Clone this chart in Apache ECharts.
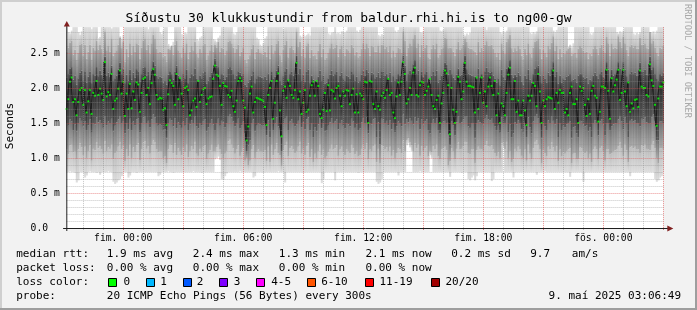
<!DOCTYPE html>
<html><head><meta charset="utf-8">
<script src="https://cdn.jsdelivr.net/npm/echarts@6/dist/echarts.min.js"></script>
<style>html,body{margin:0;padding:0;background:#f2f2f2}#c{width:697px;height:310px}</style>
</head><body><div id="c"></div><script>
// ---------- DATA ----------
// 5-minute steps starting Wed 21:10
const stepStartMin = 21 * 60 + 10;
const stepMin = 5;
const dayNames = ['mið.', 'fim.', 'fös.'];

// median RTT (ms) per step
const median = [
1.70,1.84,2.09,2.15,1.80,1.84,1.61,1.80,1.97,2.00,1.76,1.97,1.65,1.81,1.97,1.63,1.93,1.89,2.10,1.90,
1.99,1.92,1.83,2.37,1.88,1.94,1.90,2.20,1.70,1.82,1.85,1.99,2.25,1.92,2.09,1.60,1.92,1.70,2.06,1.71,
1.95,1.83,2.08,2.05,1.66,1.93,2.13,2.15,1.90,2.00,1.77,2.07,2.27,2.19,1.90,1.84,1.86,1.85,1.69,
1.71,1.47,1.91,2.11,2.07,2.03,1.76,2.20,1.84,2.14,1.92,1.74,2.00,2.02,1.97,1.61,1.68,1.82,1.85,1.73,
2.10,1.80,1.90,1.98,2.00,1.77,1.85,1.87,1.88,2.13,2.32,2.19,2.17,2.03,1.76,2.07,2.03,2.02,1.90,1.87,
1.96,1.74,1.66,1.82,2.10,2.14,2.10,1.82,1.72,1.25,1.45,1.92,2.02,1.65,1.80,1.86,1.85,1.84,1.83,1.81,
1.73,1.47,1.90,2.00,2.10,1.56,1.79,2.10,2.21,1.68,1.31,1.96,2.02,1.86,2.11,2.03,1.90,1.86,1.97,2.36,
1.84,1.95,1.63,1.79,1.97,1.66,1.69,1.89,2.04,2.09,1.89,2.10,2.03,1.63,1.57,1.69,1.93,1.67,2.04,1.68,
1.97,1.95,1.85,2.00,2.03,1.89,1.74,1.95,1.89,1.97,1.96,1.77,1.90,1.99,1.65,1.91,1.65,1.92,1.89,1.84,
2.09,2.08,1.50,2.10,2.09,1.77,1.70,1.95,1.74,1.69,1.89,1.93,1.86,1.97,2.13,1.90,1.93,1.65,1.57,1.88,
2.08,1.90,2.09,2.37,2.20,1.78,1.84,2.00,1.90,2.22,2.29,1.90,1.88,2.04,2.09,2.08,1.90,1.96,2.02,2.13,
1.90,1.74,1.70,1.83,1.89,1.50,1.78,1.93,2.25,2.21,2.04,1.34,2.00,1.69,1.50,1.66,2.16,2.09,1.84,1.95,
2.36,2.09,2.03,2.03,2.02,2.01,1.65,2.15,1.70,1.93,2.15,1.79,1.95,1.74,2.02,2.15,2.03,1.90,2.10,1.61,
1.92,1.50,1.78,1.74,1.61,1.93,2.19,2.29,1.84,1.84,2.10,1.66,1.82,1.61,1.61,1.82,1.68,1.47,1.89,1.82,
1.89,2.07,2.03,1.74,2.20,1.95,1.50,1.82,1.74,1.84,1.87,1.86,1.85,2.25,1.70,1.93,1.79,1.97,1.93,1.93,
1.65,1.70,1.61,1.93,2.02,1.77,1.77,1.84,1.50,2.02,1.96,2.00,1.76,1.60,1.84,1.63,1.96,2.03,1.89,1.86,
1.52,1.66,2.02,2.02,2.00,2.26,1.96,1.56,2.14,1.95,2.04,2.12,2.26,1.83,1.93,2.26,1.95,1.74,2.08,1.66,
1.78,1.71,1.83,1.84,1.73,2.25,2.02,2.00,2.00,1.90,1.88,2.34,2.11,2.03,1.76,1.46,1.85,2.02,2.02,2.08
];

// smoke envelope, hundredths of ms: min ping / max ping
const smokeMin = [
80,80,81,80,80,79,65,68,80,80, 80,72,75,80,81,80,80,80,79,80, 76,80,80,80,80,81,80,80,66,63,
65,68,70,74,80,80,80,72,75,80, 80,80,79,80,80,80,81,80,80,80, 80,80,80,80,80,74,76,80,80,80,
80,81,80,80,79,80,80,80,80,80, 80,80,80,80,80,80,81,80,80,80, 80,79,80,80,80,80,80,80,80,98,
100,102,97,70,69,74,78,80,80,80, 80,80,80,80,81,80,80,80,80,80, 80,80,72,74,80,80,80,80,79,80,
80,80,80,80,80,80,80,81,80,80, 80,65,80,80,80,80,80,80,80,80, 80,80,79,80,80,80,80,80,80,80,
80,80,80,64,70,80,80,80,80,80, 80,68,80,80,80,80,81,80,80,80, 80,80,80,80,80,79,80,80,80,80,
80,80,80,80,80,80,66,63,65,70, 80,80,80,80,80,80,80,80,80,75, 80,80,80,80,118,121,115,110,80,80,
80,80,81,80,80,80,80,80,104,100, 80,80,80,80,80,80,80,80,80,80, 73,80,80,80,80,80,80,79,80,80,
80,70,68,72,75,68,74,80,80,80, 80,80,80,80,80,67,70,80,80,80, 80,80,115,80,80,80,80,80,72,80,
80,80,80,80,80,80,80,80,80,80, 80,80,76,80,80,80,80,81,80,80, 80,80,80,80,80,80,80,80,80,80,
80,80,73,80,80,80,80,80,80,80, 66,80,80,80,80,80,80,80,80,80, 80,80,80,80,80,80,80,80,80,80,
80,80,80,80,80,80,80,80,74,80, 80,80,80,80,80,80,80,80,80,80, 80,80,80,70,66,68,72,74,80
];
const smokeMax = [
300,280,278,282,300,300,300,280,276,281, 300,300,300,300,300,284,300,300,300,271, 273,300,300,300,300,300,300,285,300,300,
300,300,274,270,276,300,300,300,300,300, 300,300,300,300,300,300,300,300,300,284, 300,300,300,300,300,300,280,277,282,300,
300,263,259,261,266,300,300,300,300,277, 275,279,278,300,300,300,300,300,270,268, 272,274,300,300,300,300,300,300,270,268,
266,272,275,300,300,300,300,300,300,300, 278,276,280,300,300,300,300,300,300,300, 300,300,300,300,272,270,262,260,264,271,
274,300,300,300,300,300,300,300,300,300, 284,300,300,300,300,300,300,300,300,300, 275,273,277,274,276,278,275,300,300,300,
300,300,300,300,300,300,300,278,276,279, 280,300,278,279,277,281,280,279,282,300, 300,300,300,300,282,280,283,300,300,300,
300,300,300,300,300,300,300,276,274,277, 276,300,300,300,300,300,300,282,280,283, 300,300,300,300,300,300,300,300,300,300,
300,300,280,279,281,300,300,300,300,300, 300,300,300,300,282,281,283,300,300,300, 300,300,300,300,300,300,300,300,277,275,
278,276,279,300,300,300,300,300,300,300, 300,300,283,300,300,300,300,300,300,300, 280,278,281,279,282,300,300,300,300,300,
300,300,300,300,300,300,300,300,279,277, 280,278,281,300,300,300,300,300,300,300, 300,300,282,280,283,300,300,300,300,300,
300,259,262,258,264,300,300,300,300,300, 300,300,300,300,278,276,279,300,300,300, 300,300,300,300,300,300,300,300,300,300,
280,278,281,279,282,300,300,300,300,300, 278,276,279,277,280,300,300,300,300,300, 280,279,281,278,282,300,300,300,300
];
// middle smoke band (hundredths of ms)
const smokeMidLo = [
112,105,118,120,108,110,98,112,121,115, 104,116,100,110,118,96,113,111,122,114, 117,112,106,124,109,115,113,120,98,107,
110,116,122,112,118,95,112,102,120,100, 115,108,118,121,97,112,122,124,113,117, 106,118,125,122,112,108,110,109,100,102,
92,112,120,118,107,121,104,114,110,104, 115,108,120,101,110,117,112,123,106,103, 113,108,116,118,98,106,111,119,109,110,
115,120,112,105,100,106,110,124,126,120, 114,106,112,118,103,108,114,96,100,90, 96,112,118,100,108,112,110,109,108,111,
95,116,94,119,104,112,121,107,104,88, 111,118,123,102,114,117,112,107,110,116, 123,106,113,104,117,121,101,112,94,106,
100,110,120,104,112,100,102,108,113,120, 112,114,118,103,112,116,108,104,112,110, 107,119,114,105,110,102,104,113,120,112,
121,98,112,110,117,120,94,113,92,118, 117,112,115,109,116,103,111,99,107,114, 112,107,125,110,125,128,122,118,110,121,
114,120,103,117,110,114,117,102,110,108, 117,112,120,102,98,112,114,116,111,90, 95,114,109,98,113,122,112,113,117,123,
122,107,105,112,112,92,111,116,113,112, 110,118,124,117,116,118,112,107,102,108, 100,121,122,112,123,99,110,94,98,113,
110,116,112,103,99,112,96,120,106,98, 114,123,125,120,112,92,112,107,102,116, 112,122,115,110,117,95,112,102,108,106,
110,112,114,92,106,107,98,98,115,114, 110,107,109,100,106,94,112,116,112,98, 114,117,110,96,112,112,105,107,110,111,
112,117,122,114,103,120,111,94,115,117, 114,116,112,112,107,118,117,120,113,112, 111,120,124,114,100,92,114,114,112
];
const smokeMidHi = [
252,258,265,268,248,255,240,250,262,263, 246,262,242,252,262,240,258,254,268,255, 262,256,249,280,254,260,252,270,246,250,
254,262,272,257,266,238,256,245,264,248, 260,252,264,262,242,258,268,270,255,262, 249,264,276,270,256,250,252,251,244,246,
238,256,255,260,248,262,268,254,250,244, 258,250,264,242,252,260,254,266,249,244, 256,250,261,263,240,247,254,262,252,262,
258,266,252,258,256,248,254,266,268,264, 258,250,256,262,246,252,258,240,236,242, 247,256,262,242,252,256,250,249,248,252,
245,260,242,262,249,254,263,268,247,238, 255,262,268,244,258,261,255,250,280,259, 266,246,256,244,261,264,243,255,246,247,
242,253,263,245,256,241,243,250,257,264, 256,258,262,245,256,260,250,246,256,254, 250,262,258,247,252,244,246,256,264,256,
264,258,246,260,259,252,252,260,250,262, 261,256,259,252,260,244,254,245,250,258, 256,250,280,268,246,258,264,260,270,276,
258,264,245,262,253,258,262,244,242,256, 262,256,264,244,248,256,258,272,270,257, 258,257,252,246,256,266,255,257,262,270,
266,258,256,256,254,252,248,266,252,258, 253,262,267,261,260,262,256,250,245,251, 240,264,254,249,266,270,276,257,252,257,
253,260,256,246,240,256,248,264,249,244, 258,266,268,270,256,242,255,250,245,260, 256,265,274,253,261,242,256,245,251,249,
254,256,258,246,249,250,244,256,260,258, 253,250,252,242,249,246,256,260,256,248, 258,262,254,251,273,264,246,264,256,258,
256,274,266,258,273,264,255,246,259,262, 258,260,256,256,272,262,262,264,257,256, 280,264,268,258,251,246,258,256,260
];
// inner (dark) smoke band (hundredths of ms)
const smokeCoreLo = [
150,146,155,152,140,148,138,150,157,153, 145,152,140,147,155,136,150,148,158,151, 154,149,143,160,147,152,150,156,138,146,
151,155,160,149,153,135,150,141,156,140, 152,147,155,157,137,149,158,160,150,153, 144,155,162,158,150,146,148,147,139,141,
128,150,156,154,145,157,142,151,147,143, 152,146,157,140,148,154,150,159,145,142, 150,147,153,155,138,144,149,155,148,140,
150,156,146,153,151,144,149,160,162,158, 152,145,150,156,142,147,152,135,110,118, 125,150,155,138,146,149,148,147,146,148,
132,154,130,156,140,149,158,145,142,110, 149,156,160,140,152,155,150,145,148,153, 160,144,151,141,155,158,139,150,130,144,
138,148,157,142,150,138,140,146,151,157, 150,152,155,141,150,154,146,142,150,148, 145,156,152,143,148,140,142,151,157,150,
158,135,150,148,155,157,130,151,120,156, 155,150,153,147,154,141,149,137,145,152, 150,145,162,148,155,151,157,153,148,158,
152,157,141,155,148,152,155,140,135,150, 155,150,157,140,135,150,152,153,149,151, 118,152,147,132,151,159,150,151,155,160,
159,145,143,150,150,128,149,154,151,150, 148,156,161,155,154,156,150,145,140,146, 136,158,150,150,160,137,148,130,135,151,
148,154,150,141,137,150,130,158,144,135, 152,160,162,157,150,128,150,145,140,154, 150,159,153,148,155,130,150,140,146,144,
148,150,152,128,144,145,135,130,153,152, 148,145,147,138,144,130,150,154,150,132, 152,155,148,132,150,150,140,145,148,149,
150,155,160,152,141,158,149,130,153,155, 152,154,150,150,145,156,155,158,151,150, 149,158,162,152,125,125,152,152,150
];
const smokeCoreHi = [
215,220,228,230,212,218,205,214,222,225, 210,224,208,216,223,207,220,218,230,217, 225,219,213,245,218,222,216,232,210,214,
218,226,236,220,228,207,219,211,226,212, 222,215,227,224,209,220,229,230,218,223, 212,225,238,232,218,214,216,215,208,210,
205,219,224,220,212,223,232,218,214,210, 220,214,226,207,215,221,218,228,213,209, 218,214,222,224,206,211,216,222,215,242,
232,230,214,220,219,212,216,228,230,226, 220,213,218,224,222,218,220,205,202,208, 212,218,224,207,214,217,216,215,214,216,
212,221,207,224,213,216,225,232,210,205, 217,224,228,208,220,223,218,213,246,221, 228,210,219,209,223,226,207,218,212,211,
207,216,225,210,218,206,208,214,219,225, 218,220,223,209,218,222,214,210,218,216, 213,224,220,211,216,208,210,219,225,218,
226,222,210,222,221,214,216,222,215,224, 223,218,221,215,222,209,217,210,213,220, 218,213,246,232,210,220,225,221,234,240,
220,225,209,223,216,220,223,208,206,218, 223,218,225,208,212,218,220,236,233,219, 226,220,215,212,219,228,218,219,223,246,
227,221,219,218,217,216,212,228,215,220, 216,224,229,223,222,224,218,213,208,214, 204,226,216,212,228,231,240,219,215,219,
216,222,218,209,205,218,213,226,212,208, 220,228,230,232,218,207,218,213,208,222, 218,227,237,216,223,206,218,208,214,212,
216,218,220,210,212,213,208,218,221,220, 216,213,215,206,212,210,218,222,218,213, 220,223,216,214,237,226,210,226,218,220,
218,237,228,220,237,226,217,210,221,223, 220,222,218,218,236,224,223,226,219,218, 245,226,230,220,214,210,220,218,222
];

// y axis
const yMin = 0, yMax = 2.87, yMajor = 0.5, yMinor = 0.1;

// legend texts
const titleText = 'Síðustu 30 klukkustundir from baldur.rhi.hi.is to ng00-gw';
const unitText = 'Seconds';
const watermark = 'RRDTOOL / TOBI OETIKER';
const legendRow1 = [['median rtt:',16.2],['1.9 ms avg',106.8],['2.4 ms max',192.8],['1.3 ms min',278.8],['2.1 ms now',365.5],['0.2 ms sd',451.2],['9.7',530.2],['am/s',571.8]];
const legendRow2 = [['packet loss:',16.2],['0.00 % avg',106.8],['0.00 % max',192.8],['0.00 % min',278.8],['0.00 % now',365.5]];
const lossLabels = ['0','1','2','3','4-5','6-10','11-19','20/20'];
const lossColors = ['#00ff00','#00b8ff','#0059ff','#7e00ff','#ff00ff','#ff5500','#ff0000','#a10000'];
const lossBoxX = [108.3,145.7,182.7,219.3,256,306.7,365.3,430.7];
const lossTextX = [123.5,160.2,196.8,233.8,271.2,321.2,379.5,445.5];
const probeText = '20 ICMP Echo Pings (56 Bytes) every 300s';
const dateText = '9. maí 2025 03:06:49';

// ---------- BUILD ----------
const pad = n => (n < 10 ? '0' : '') + n;
const categories = median.map((_, i) => {
  const t = stepStartMin + i * stepMin;
  const d = Math.floor(t / 1440), h = Math.floor((t % 1440) / 60), m = t % 60;
  return dayNames[d] + ' ' + pad(h) + ':' + pad(m);
});
const hm = v => { const p = v.split(' ')[1].split(':'); return [+p[0], +p[1]]; };
const isHour = (i, v) => hm(v)[1] === 0;
const isMajor = (i, v) => { const [h, m] = hm(v); return m === 0 && h % 3 === 0; };
const isLabel = (i, v) => { const [h, m] = hm(v); return m === 0 && h % 6 === 0; };

const smokeData = median.map((v, i) => [i, smokeMin[i] / 100, smokeMidLo[i] / 100, smokeCoreLo[i] / 100, v, smokeCoreHi[i] / 100, smokeMidHi[i] / 100, smokeMax[i] / 100]);
const medianData = median.map((v, i) => [i, v]);

const G = { left: 66.6, top: 27.1, width: 596.7, height: 200.9 };
const MONO = '"DejaVu Sans Mono", monospace';
const gridMinor = 'rgba(143,143,143,0.5)';
const gridMajor = 'rgba(222,79,79,0.6)';
// vertical gradients (bottom colour, top colour) for the smoke layers between successive boundaries
const smokeLayers = [
  ['#dedede', '#bcbcbc'],
  ['#a9a9a9', '#727272'],
  ['#575757', '#2e2e2e'],
  ['#2e2e2e', '#575757'],
  ['#727272', '#a9a9a9'],
  ['#bcbcbc', '#dedede']
];
const grad = (bottom, top) => ({ type: 'linear', x: 0, y: 0, x2: 0, y2: 1, colorStops: [{ offset: 0, color: top }, { offset: 1, color: bottom }] });

const chart = echarts.init(document.getElementById('c'), null, { renderer: 'canvas' });

const graphics = [];
graphics.push({ type: 'rect', shape: { x: 0, y: 0, width: 697, height: 2 }, style: { fill: '#cfcfcf' }, z: 100 });
graphics.push({ type: 'rect', shape: { x: 0, y: 0, width: 2, height: 310 }, style: { fill: '#cfcfcf' }, z: 100 });
graphics.push({ type: 'rect', shape: { x: 0, y: 308, width: 697, height: 2 }, style: { fill: '#9e9e9e' }, z: 100 });
graphics.push({ type: 'rect', shape: { x: 695, y: 0, width: 2, height: 310 }, style: { fill: '#9e9e9e' }, z: 100 });
graphics.push({ type: 'text', x: 348.5, y: 18.5, style: { text: titleText, font: '13px ' + MONO, fill: '#000', align: 'center', verticalAlign: 'middle' }, z: 100 });
graphics.push({ type: 'text', x: 10.5, y: 126, rotation: Math.PI / 2, style: { text: unitText, font: '11px ' + MONO, fill: '#000', align: 'center', verticalAlign: 'middle' }, z: 100 });
graphics.push({ type: 'text', x: 687, y: 61, rotation: -Math.PI / 2, style: { text: watermark, font: '8.6px ' + MONO, fill: '#a9a9a9', align: 'center', verticalAlign: 'middle' }, z: 100 });
const axisY = G.top + G.height;
const axX = G.left;
graphics.push({ type: 'line', shape: { x1: axX - 3.5, y1: axisY + 0.5, x2: G.left + G.width + 5, y2: axisY + 0.5 }, style: { stroke: '#1f1f1f', lineWidth: 1 }, z: 110 });
graphics.push({ type: 'line', shape: { x1: axX + 0.2, y1: axisY + 3, x2: axX + 0.2, y2: G.top - 2 }, style: { stroke: '#1f1f1f', lineWidth: 1 }, z: 110 });
graphics.push({ type: 'polygon', shape: { points: [[axX + 0.2, G.top - 6], [axX - 2.8, G.top - 0.5], [axX + 3.2, G.top - 0.5]] }, style: { fill: '#801f1f' }, z: 111 });
const xe = G.left + G.width + 4;
graphics.push({ type: 'polygon', shape: { points: [[xe + 6, axisY + 0.5], [xe, axisY - 2.5], [xe, axisY + 3.5]] }, style: { fill: '#801f1f' }, z: 111 });
const rowY = [254.3, 268.3, 282.3, 296.2];
const txt = (s, x, y, align) => ({ type: 'text', x: x, y: y, style: { text: s, font: '11px ' + MONO, fill: '#000', align: align || 'left', verticalAlign: 'middle' }, z: 100 });
legendRow1.forEach(([s, x]) => graphics.push(txt(s, x, rowY[0])));
legendRow2.forEach(([s, x]) => graphics.push(txt(s, x, rowY[1])));
graphics.push(txt('loss color:', 16.2, rowY[2]));
lossLabels.forEach((s, k) => {
  graphics.push({ type: 'rect', shape: { x: Math.round(lossBoxX[k]) + 0.5, y: 278.5, width: 8, height: 8 }, style: { fill: lossColors[k], stroke: '#000', lineWidth: 1 }, z: 100 });
  graphics.push(txt(s, lossTextX[k], rowY[2]));
});
graphics.push(txt('probe:', 16.2, rowY[3]));
graphics.push(txt(probeText, 106.8, rowY[3]));
graphics.push(txt(dateText, 681, rowY[3], 'right'));

chart.setOption({
  animation: false,
  backgroundColor: '#f2f2f2',
  grid: Object.assign({ show: true, backgroundColor: '#ffffff', borderWidth: 0 }, G),
  xAxis: [
    {
      type: 'category', data: categories, boundaryGap: false, position: 'bottom', z: 6,
      axisLine: { show: false },
      axisTick: { show: true, interval: isMajor, length: 2, lineStyle: { color: gridMajor } },
      axisLabel: { interval: isLabel, margin: 5, fontFamily: MONO, fontSize: 9.7, color: '#000' },
      splitLine: { show: true, interval: isMajor, lineStyle: { color: gridMajor, type: [1, 1], width: 1 } }
    },
    {
      type: 'category', data: categories, boundaryGap: false, position: 'bottom', z: 5,
      axisLine: { show: false },
      axisTick: { show: true, interval: isHour, length: 2, lineStyle: { color: gridMinor } },
      axisLabel: { show: false },
      splitLine: { show: true, interval: isHour, lineStyle: { color: [gridMinor, gridMinor, 'rgba(0,0,0,0)'], type: [1, 1], width: 1 } }
    }
  ],
  yAxis: [
    {
      type: 'value', min: yMin, max: yMax, interval: yMajor, z: 6,
      axisLine: { show: false }, axisTick: { show: false },
      axisLabel: { showMaxLabel: false, align: 'left', margin: 36, fontFamily: MONO, fontSize: 9.7, color: '#000',
        formatter: v => (v === 0 ? '0.0' : v.toFixed(1) + ' m') },
      splitLine: { show: true, showMinLine: false, showMaxLine: false, lineStyle: { color: gridMajor, type: [1, 1], width: 1 } }
    },
    {
      type: 'value', min: yMin, max: yMax, interval: yMinor, z: 5,
      axisLine: { show: false }, axisTick: { show: false }, axisLabel: { show: false },
      splitLine: { show: true, showMaxLine: false, lineStyle: { color: ['rgba(0,0,0,0)', gridMinor, gridMinor, gridMinor, gridMinor], type: [1, 1], width: 1 } }
    }
  ],
  series: [
    {
      type: 'custom', xAxisIndex: 0, yAxisIndex: 0, clip: true, z: 1, silent: true,
      data: smokeData,
      encode: { x: 0, y: [1, 7] },
      renderItem: (params, api) => {
        const i = api.value(0);
        const cs = params.coordSys;
        const w = api.size([1, 0])[0];
        const cx = api.coord([i, 0])[0];
        const children = [];
        for (let k = 0; k < 6; k++) {
          const lo = api.value(1 + k), hi = api.value(2 + k);
          let yTop = api.coord([i, Math.max(lo, hi)])[1];
          const yBot = api.coord([i, Math.min(lo, hi)])[1];
          const fullTop = yTop;
          yTop = Math.max(yTop, cs.y);
          if (yBot - yTop <= 0) continue;
          children.push({ type: 'rect', shape: { x: cx - w / 2, y: yTop, width: w + 0.4, height: yBot - yTop },
            style: { fill: grad(smokeLayers[k][0], smokeLayers[k][1]) } });
        }
        return { type: 'group', children: children };
      }
    },
    {
      type: 'line', xAxisIndex: 0, yAxisIndex: 0, data: medianData, step: 'middle', z: 2,
      showSymbol: false, symbol: 'none', lineStyle: { color: '#1c1c1c', width: 1 }, silent: true
    },
    {
      type: 'scatter', xAxisIndex: 0, yAxisIndex: 0, data: medianData, z: 3,
      symbol: 'rect', symbolSize: [2, 2], itemStyle: { color: '#00ff00' }, silent: true
    }
  ],
  graphic: graphics
});
</script></body></html>
